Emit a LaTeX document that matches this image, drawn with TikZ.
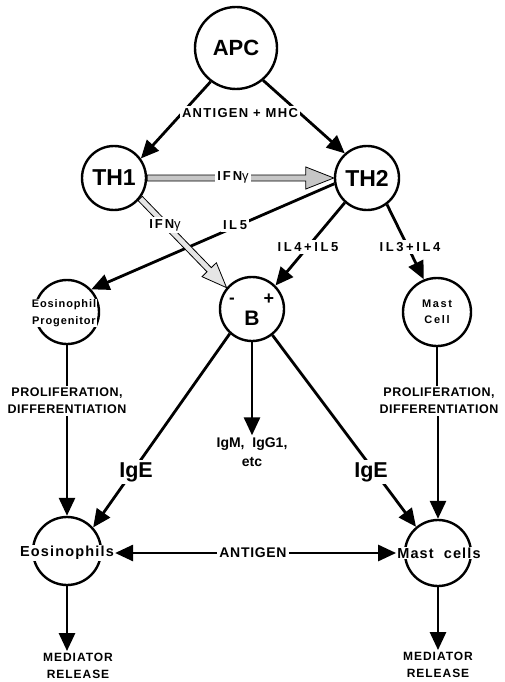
\documentclass[tikz,border=0pt]{standalone}
\usepackage{fontspec}
\setmainfont{Liberation Sans}
\usetikzlibrary{arrows.meta,calc}

% bold text at a given size, optional letter spacing
\newcommand\fs[2]{\fontsize{#1}{#2}\selectfont\bfseries}
\newcommand\lsp[1]{\addfontfeatures{LetterSpace=#1}}

% open "fat" arrow: start, end, fill, head length, head half-width
\newcommand\fatarrow[5]{%
  \path (#1) coordinate (fa-s) (#2) coordinate (fa-e);
  \coordinate (fa-h) at ($(fa-e)!#4!(fa-s)$);
  \filldraw[line width=0.8pt, fill=#3, line join=miter]
    ($(fa-s)!3pt!90:(fa-e)$) -- ($(fa-h)!3pt!90:(fa-e)$) --
    ($(fa-h)!#5!90:(fa-e)$) -- (fa-e) -- ($(fa-h)!#5!-90:(fa-e)$) --
    ($(fa-h)!3pt!-90:(fa-e)$) -- ($(fa-s)!3pt!-90:(fa-e)$) -- cycle;
}

\tikzset{
  cell/.style={circle, draw, line width=2.4pt, inner sep=0pt, minimum size=#1, align=center},
  cell/.default=64pt,
  conn/.style={line width=2.8pt},
  arr/.style={line width=2.8pt, -{Triangle[length=18pt,width=16pt]}},
  tag/.style={fill=white, inner sep=2.5pt, align=center},
  celltext/.style={fill=white, inner sep=1pt, align=center},
  plain/.style={align=center, inner sep=2pt},
}

\begin{document}
\begin{tikzpicture}[x=1pt,y=-1pt]
\useasboundingbox (0,0) rectangle (504,682);

% cells
\node[cell=82pt, font=\fs{22}{24}] (apc) at (236,48) {APC};
\node[cell, font=\fs{23}{25}] (th1) at (114,178) {TH1};
\node[cell, font=\fs{23}{25}] (th2) at (367,178) {TH2};
\node[cell] (b) at (252,309) {};
\node[font=\fs{21}{23}] (bt) at (252,318) {B};
\node[font=\fs{17}{19}] (bminus) at (232,301) {-};
\node[font=\fs{18}{20}] (bplus) at (269,299) {+};
\node[cell] (ep) at (67,312) {};
\node[celltext, font=\fs{11}{16.5}\lsp{8}] (ept) at (64,313) {Eosinophil\\Progenitor};
\node[cell=68pt, font=\fs{11}{15.5}\lsp{15}] (mcl) at (437,312) {Mast\\Cell};
\node[cell=68pt] (eos) at (67,551) {};
\node[celltext, font=\fs{14.5}{16}\lsp{8}] (eost) at (67,553) {Eosinophils};
\node[cell=66pt] (mcs) at (438,553) {};
\node[celltext, font=\fs{14.5}{16}\lsp{8}] (mcst) at (439,553) {Mast\hspace{10pt}cells};

% plain labels
\node[plain, font=\fs{12.5}{17}\lsp{4}] (prolL) at (67,401) {PROLIFERATION,\\DIFFERENTIATION};
\node[plain, font=\fs{12.5}{17}\lsp{4}] (prolR) at (439,401) {PROLIFERATION,\\DIFFERENTIATION};
\node[plain, font=\fs{14}{19}] (igm) at (252,452) {IgM,\ \ IgG1,\\etc};
\node[plain, font=\fs{14}{16}\lsp{5}] (ant) at (253,553) {ANTIGEN};
\node[plain, font=\fs{12}{17}\lsp{8}] (medL) at (78,666) {MEDIATOR\\RELEASE};
\node[plain, font=\fs{12}{17}\lsp{8}] (medR) at (438,665) {MEDIATOR\\RELEASE};

% connectors
\draw[arr] (apc.233) -- (th1.36);
\draw[arr] (apc.310) -- (th2.132);
\draw[arr] (th2.190) -- (ep.43);
\draw[arr] (th2.228) -- (b.45);
\draw[arr] (th2.307) -- (mcl.112);
\draw[conn] (ep) -- (ep |- prolL.north);
\draw[arr] (prolL.south -| eos) -- (eos);
\draw[conn] (mcl) -- (mcl |- prolR.north);
\draw[arr] (prolR.south -| mcs) -- (mcs);
\draw[arr] (b) -- (igm);
\draw[arr] (b.228) -- (eos.42);
\draw[arr] (b.308) -- (mcs.130);
\draw[arr] (ant) -- (eost);
\draw[arr] (ant) -- (mcst);
\draw[arr] (eos) -- (eos |- medL.north);
\draw[arr] (mcs) -- (mcs |- medR.north);

% interferon signals
\fatarrow{th1.east}{th2.west}{gray!45}{28pt}{11pt}
\fatarrow{th1.-38}{b.140}{gray!20}{25pt}{10pt}

% labels on the connectors
\node[tag, font=\fs{13}{15}\lsp{10}] (am) at (240,113) {ANTIGEN + MHC};
\node[tag, font=\fs{13}{15}\lsp{15}] (ifn1) at (233,177) {IFN\mdseries γ};
\node[tag, font=\fs{13}{15}\lsp{15}] (ifn2) at (165,225) {IFN\mdseries γ};
\node[tag, font=\fs{13}{15}\lsp{20}] (il5) at (235,225) {IL5};
\node[tag, font=\fs{13}{15}\lsp{20}] (il45) at (308,247) {IL4+IL5};
\node[tag, font=\fs{13}{15}\lsp{20}] (il34) at (410,247) {IL3+IL4};
\node[tag, font=\fs{21.5}{23}] (igeL) at (136,472) {IgE};
\node[tag, font=\fs{21.5}{23}] (igeR) at (371,472) {IgE};
\end{tikzpicture}
\end{document}
